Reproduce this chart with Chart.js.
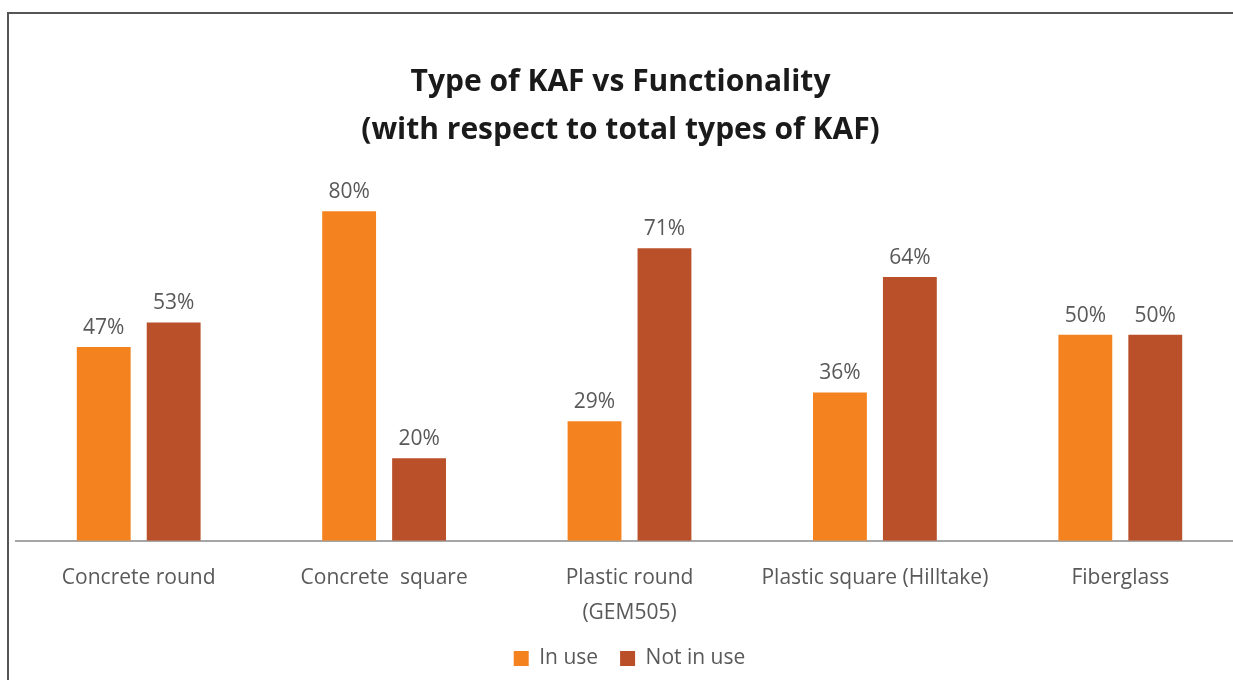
<!DOCTYPE html>
<html>
<head>
<meta charset="utf-8">
<script src="https://cdn.jsdelivr.net/npm/chart.js@4.4.1/dist/chart.umd.min.js"></script>
<style>
  html, body { margin: 0; padding: 0; background: #fff; overflow: hidden; }
  #wrap { position: relative; width: 1250px; height: 680px; }
  #frame { position: absolute; left: 7px; top: 12px; right: -20px; bottom: -20px;
           border-left: 2px solid #555; border-top: 2px solid #555; pointer-events: none; }
</style>
</head>
<body>
<div id="wrap">
  <canvas id="kafChart" width="1250" height="680"></canvas>
  <div id="frame"></div>
</div>
<script>
const categories = [
  'Concrete round',
  'Concrete  square',
  ['Plastic round', '(GEM505)'],
  'Plastic square (Hilltake)',
  'Fiberglass'
];
const inUse = [47, 80, 29, 36, 50];
const notInUse = [53, 20, 71, 64, 50];

const FONT = "'Open Sans', 'Noto Sans', sans-serif";
const GREY = '#595959';

// draws the % value above each bar
const valueLabels = {
  id: 'valueLabels',
  afterLayout(chart) {
    // canvas is wider than the window, pull the title back to the page centre
    if (chart.titleBlock) {
      chart.titleBlock.left -= 9;
      chart.titleBlock.right -= 9;
    }
  },
  afterDatasetsDraw(chart) {
    const ctx = chart.ctx;
    ctx.save();
    ctx.font = '21px ' + FONT;
    ctx.fillStyle = GREY;
    ctx.textAlign = 'center';
    ctx.textBaseline = 'middle';
    chart.data.datasets.forEach(function(ds, i) {
      chart.getDatasetMeta(i).data.forEach(function(bar, j) {
        ctx.fillText(ds.data[j] + '%', bar.x, bar.y - 19);
      });
    });
    ctx.restore();
  }
};

const ctx = document.getElementById('kafChart').getContext('2d');
const kafChart = new Chart(ctx, {
  type: 'bar',
  data: {
    labels: categories,
    datasets: [{
      label: 'In use',
      data: inUse,
      backgroundColor: '#F3821F',
      categoryPercentage: 0.57,
      barPercentage: 0.77
    }, {
      label: 'Not in use',
      data: notInUse,
      backgroundColor: '#B9502A',
      categoryPercentage: 0.57,
      barPercentage: 0.77
    }]
  },
  options: {
    responsive: false,
    animation: false,
    layout: {
      padding: { left: 16, right: 7, top: 58, bottom: 1 }
    },
    scales: {
      x: {
        grid: { display: false, drawTicks: false },
        border: { display: true, color: '#a6a6a6', width: 2 },
        afterFit(scale) {
          scale.height -= 24;
        },
        ticks: {
          color: GREY,
          padding: 20,
          maxRotation: 0,
          autoSkip: false,
          font: { family: FONT, size: 21, lineHeight: 1.65 }
        }
      },
      y: {
        display: false,
        min: 0,
        max: 90
      }
    },
    plugins: {
      title: {
        display: true,
        text: ['Type of KAF vs Functionality', '(with respect to total types of KAF)'],
        color: '#1a1a1a',
        font: { family: FONT, size: 30, weight: 'bold', lineHeight: 1.6 },
        padding: { top: 0, bottom: 16 }
      },
      legend: {
        position: 'bottom',
        labels: {
          color: GREY,
          boxWidth: 15,
          boxHeight: 15,
          padding: 22,
          font: { family: FONT, size: 21 }
        }
      },
      tooltip: { enabled: false }
    }
  },
  plugins: [valueLabels]
});
</script>
</body>
</html>
